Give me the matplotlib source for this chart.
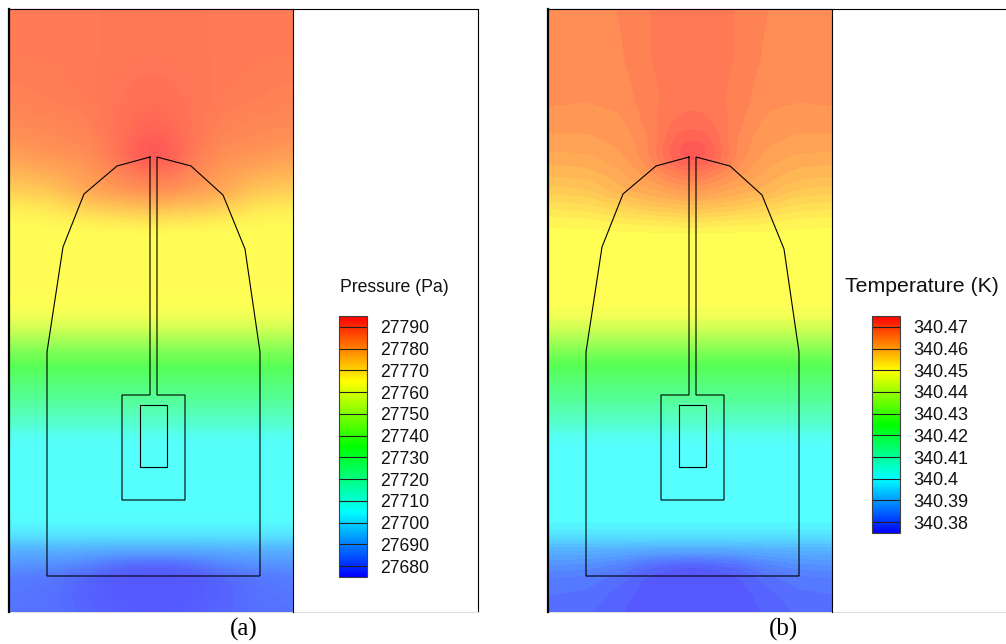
import matplotlib
matplotlib.use("Agg")
import matplotlib.pyplot as plt
from matplotlib.colors import LinearSegmentedColormap, Normalize
from matplotlib.cm import ScalarMappable
import numpy as np

W, H = 1006, 644

# sample positions, read in pixels of the left panel
col_x = [9, 50, 84, 110, 135, 153.5]
row_y = [9, 60, 100, 125, 140, 150, 160, 175, 190, 205, 220, 235, 300, 315,
         330, 350, 367, 385, 400, 420, 440, 520, 535, 550, 565, 577, 595, 612]

# half of each field, from the wall to the centre line
pressure = [
    [27788.5, 27788.5, 27788.5, 27788.5, 27788.5, 27788.5],
    [27788, 27788, 27788.5, 27788.5, 27789, 27789],
    [27787, 27787.5, 27788, 27789, 27790, 27790.5],
    [27785.5, 27786, 27787, 27789, 27791, 27792],
    [27784, 27785, 27786, 27788.5, 27792, 27794],
    [27782.5, 27784, 27785, 27788, 27793, 27795],
    [27780.5, 27782.5, 27784, 27787, 27792, 27794],
    [27777, 27779, 27782, 27785, 27788, 27789],
    [27773, 27775, 27780, 27782, 27784, 27785],
    [27768.5, 27770, 27774, 27776, 27777, 27778],
    [27766, 27766.5, 27768, 27769, 27769.5, 27770],
    [27765, 27765, 27765, 27765, 27765, 27765],
    [27765, 27765, 27765, 27765, 27765, 27765],
    [27763, 27763, 27763, 27763, 27763, 27763],
    [27756, 27756, 27756, 27756, 27756, 27756],
    [27743, 27743, 27743, 27743, 27743, 27743],
    [27735, 27735, 27735, 27735, 27735, 27735],
    [27728, 27728, 27728, 27728, 27728, 27728],
    [27723, 27723, 27723, 27723, 27723, 27723],
    [27715, 27715, 27715, 27715, 27715, 27715],
    [27706, 27706, 27706, 27706, 27706, 27706],
    [27705, 27705, 27705, 27705, 27705, 27705],
    [27700, 27700, 27700, 27700, 27700, 27700],
    [27691, 27691, 27690.5, 27690, 27690, 27690],
    [27686, 27685, 27683, 27680, 27678, 27677.5],
    [27682, 27681, 27678, 27676, 27675.5, 27675.5],
    [27681, 27680, 27677.5, 27676, 27675.5, 27675.5],
    [27680.5, 27680, 27678, 27677, 27676, 27676],
]

temperature = [
    [340.4670, 340.4670, 340.4675, 340.4690, 340.4692, 340.4692],
    [340.4668, 340.4668, 340.4672, 340.4690, 340.4692, 340.4692],
    [340.4662, 340.4660, 340.4665, 340.4685, 340.4695, 340.4698],
    [340.4650, 340.4648, 340.4655, 340.4680, 340.4708, 340.4715],
    [340.4640, 340.4640, 340.4650, 340.4672, 340.4722, 340.4738],
    [340.4630, 340.4632, 340.4645, 340.4672, 340.4732, 340.4750],
    [340.4618, 340.4622, 340.4638, 340.4668, 340.4725, 340.4742],
    [340.4600, 340.4605, 340.4625, 340.4650, 340.4680, 340.4695],
    [340.4575, 340.4582, 340.4612, 340.4625, 340.4640, 340.4650],
    [340.4545, 340.4550, 340.4570, 340.4585, 340.4595, 340.4600],
    [340.4515, 340.4518, 340.4530, 340.4535, 340.4540, 340.4545],
    [340.4500, 340.4500, 340.4500, 340.4500, 340.4500, 340.4500],
    [340.4500, 340.4500, 340.4500, 340.4500, 340.4500, 340.4500],
    [340.4483, 340.4483, 340.4483, 340.4483, 340.4483, 340.4483],
    [340.4425, 340.4425, 340.4425, 340.4425, 340.4425, 340.4425],
    [340.4317, 340.4317, 340.4317, 340.4317, 340.4317, 340.4317],
    [340.4250, 340.4250, 340.4250, 340.4250, 340.4250, 340.4250],
    [340.4192, 340.4192, 340.4192, 340.4192, 340.4192, 340.4192],
    [340.4150, 340.4150, 340.4150, 340.4150, 340.4150, 340.4150],
    [340.4083, 340.4083, 340.4083, 340.4083, 340.4083, 340.4083],
    [340.4008, 340.4008, 340.4008, 340.4008, 340.4008, 340.4008],
    [340.4000, 340.4000, 340.4000, 340.4000, 340.4000, 340.4000],
    [340.3960, 340.3960, 340.3960, 340.3960, 340.3960, 340.3960],
    [340.3885, 340.3885, 340.3880, 340.3875, 340.3875, 340.3875],
    [340.3840, 340.3835, 340.3815, 340.3785, 340.3770, 340.3765],
    [340.3810, 340.3805, 340.3785, 340.3760, 340.3752, 340.3750],
    [340.3795, 340.3790, 340.3770, 340.3755, 340.3752, 340.3750],
    [340.3785, 340.3782, 340.3765, 340.3755, 340.3750, 340.3750],
]

# body outline, hull and slot are one closed line
outline_x = [150, 117, 84, 63, 47, 47, 260, 260, 245, 223, 191, 157, 157, 185, 185, 122, 122, 150, 150]
outline_y = [157, 166, 194, 247, 352, 576, 576, 352, 249, 195, 166, 157, 395, 395, 500, 500, 395, 395, 157]
core_x = [140, 167, 167, 140, 140]
core_y = [405, 405, 467, 467, 405]

pressure_ticks = [27790, 27780, 27770, 27760, 27750, 27740, 27730, 27720, 27710, 27700, 27690, 27680]
pressure_labels = ["27790", "27780", "27770", "27760", "27750", "27740",
                   "27730", "27720", "27710", "27700", "27690", "27680"]
temperature_ticks = [340.47, 340.46, 340.45, 340.44, 340.43, 340.42, 340.41, 340.40, 340.39, 340.38]
temperature_labels = ["340.47", "340.46", "340.45", "340.44", "340.43", "340.42",
                      "340.41", "340.4", "340.39", "340.38"]

rainbow = LinearSegmentedColormap.from_list(
    "rainbow5", ["#0000ff", "#00ffff", "#00ff00", "#ffff00", "#ff0000"], N=512)
# same colours washed out, the field is translucent over white in the original
pastel = LinearSegmentedColormap.from_list(
    "pastel5", ["#5555ff", "#55ffff", "#55ff55", "#ffff55", "#ff5555"], N=512)

plt.rcParams['font.family'] = ['Liberation Sans', 'DejaVu Sans']
fig = plt.figure(figsize=(W / 100, H / 100), dpi=100)


def px_axes(x0, y0, x1, y1):
    return fig.add_axes([x0 / W, 1 - y1 / H, (x1 - x0) / W, (y1 - y0) / H])


def blur(line, size):
    padded = np.pad(line, size // 2, mode="edge")
    return np.convolve(padded, np.ones(size) / size, mode="valid")


def panel(left, values, vmin, vmax, nlevels, ticks, labels, title, title_x, title_size,
          label_size, bar_x, bar_bottom, caption, caption_x, right_edge):
    # outer frame
    frame = px_axes(left, 9, right_edge, 612)
    frame.set_xticks([])
    frame.set_yticks([])
    for name in ["top", "right"]:
        frame.spines[name].set_color("black")
    frame.spines["left"].set_visible(False)
    frame.spines["bottom"].set_color("#e0e0e0")
    frame.spines["top"].set_linewidth(0.8)
    frame.spines["right"].set_linewidth(0.8)
    frame.spines["bottom"].set_linewidth(0.8)

    # field, mirrored about the slot, resampled to pixels and softened
    half = np.array(values)
    full = np.hstack([half, half[:, -2::-1]])
    xs = np.array(col_x)
    xs = np.hstack([xs, 307 - xs[-2::-1]])
    fine_x = np.arange(9, 299)
    fine_y = np.arange(9, 613)
    grid = np.array([np.interp(fine_y, row_y, full[:, j]) for j in range(full.shape[1])]).T
    grid = np.array([np.interp(fine_x, xs, r) for r in grid])
    grid = np.apply_along_axis(blur, 1, grid, 21)
    grid = np.apply_along_axis(blur, 0, grid, 11)

    ax = px_axes(left, 9, left + 284, 612)
    ax.contourf(fine_x, fine_y, grid, levels=np.linspace(vmin, vmax, nlevels), cmap=pastel,
                extend="both", antialiased=False)
    ax.plot(outline_x, outline_y, color="black", lw=0.8, solid_joinstyle="miter")
    ax.plot(core_x, core_y, color="black", lw=0.8, solid_joinstyle="miter")
    ax.set_xlim(9, 293)
    ax.set_ylim(612, 9)
    ax.set_xticks([])
    ax.set_yticks([])
    ax.spines["bottom"].set_visible(False)
    ax.spines["left"].set_linewidth(1.6)
    ax.spines["top"].set_linewidth(0.8)
    ax.spines["right"].set_linewidth(0.8)

    # legend bar
    cax = px_axes(bar_x, 316, bar_x + 28, bar_bottom)
    sm = ScalarMappable(norm=Normalize(vmin, vmax), cmap=rainbow)
    cb = fig.colorbar(sm, cax=cax, ticks=ticks)
    cb.set_ticklabels(labels)
    cb.outline.set_edgecolor("#404040")
    cb.outline.set_linewidth(0.8)
    cax.hlines(ticks, 0, 1, transform=cax.get_yaxis_transform(), color="#202020", lw=0.8)
    cax.tick_params(right=False, length=0, pad=9.4, labelsize=label_size, labelcolor="#111111")

    fig.text(title_x / W, 1 - 287 / H, title, fontsize=title_size, ha="left", va="center", color="#111111")
    fig.text(caption_x / W, 1 - 629 / H, caption, fontsize=18, ha="center", va="center",
             family=["Liberation Serif", "DejaVu Serif"], color="black")


panel(9, pressure, 27675, 27795, 241, pressure_ticks, pressure_labels, "Pressure (Pa)",
      340, 12.7, 12.7, 339, 577, "(a)", 244, 478)
panel(548, temperature, 340.375, 340.475, 67, temperature_ticks, temperature_labels, "Temperature (K)",
      845, 15.3, 13, 872, 533, "(b)", 783, 1020)

fig.savefig("out.png", dpi=100)
